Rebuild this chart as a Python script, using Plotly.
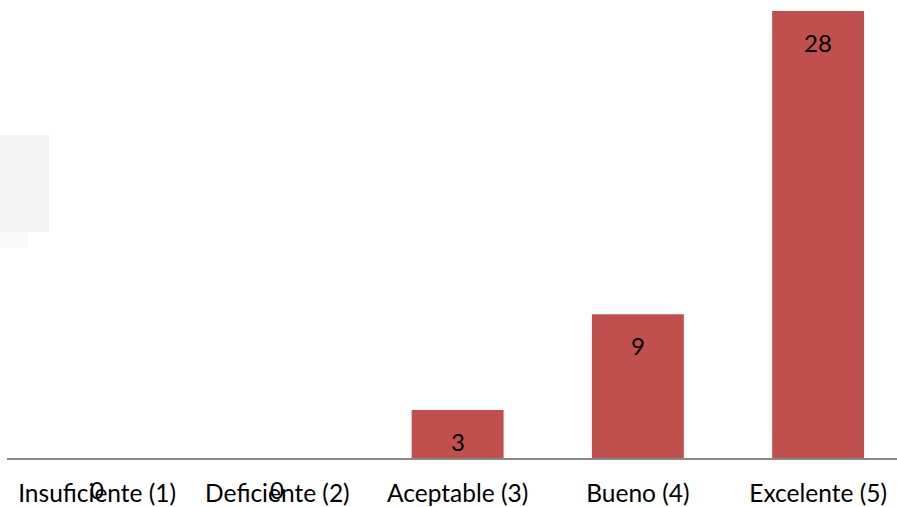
import plotly.graph_objects as go

categories = ["Insuficiente (1)", "Deficiente (2)", "Aceptable (3)", "Bueno (4)", "Excelente (5)"]
values = [0, 0, 3, 9, 28]

bar_color = "#C0504D"
font_family = "Lato, Open Sans, sans-serif"

fig = go.Figure()
fig.add_trace(go.Bar(
    x=categories,
    y=values,
    marker=dict(color=bar_color, line=dict(width=0)),
    width=0.51,
    showlegend=False,
    hoverinfo="x+y",
))

for c, v in zip(categories, values):
    fig.add_annotation(
        x=c, y=v, text=str(v), showarrow=False,
        yshift=-31, yanchor="middle", xanchor="center",
        font=dict(family=font_family, size=24, color="#000000"),
    )

# faint grey box at left edge (artifact of the original)
fig.add_shape(type="rect", xref="paper", yref="paper",
              x0=-0.01, x1=(49 - 7) / 890, y0=(458 - 232) / 458, y1=(458 - 135) / 458,
              fillcolor="#f3f3f3", line=dict(width=0), layer="below")
fig.add_shape(type="rect", xref="paper", yref="paper",
              x0=-0.01, x1=(28 - 7) / 890, y0=(458 - 248) / 458, y1=(458 - 232) / 458,
              fillcolor="#f9f9f9", line=dict(width=0), layer="below")

fig.update_layout(
    width=897, height=507,
    margin=dict(l=7, r=0, t=0, b=49),
    paper_bgcolor="white", plot_bgcolor="white",
    font=dict(family=font_family, size=24, color="#000000"),
    bargap=0.49,
)
fig.update_xaxes(
    type="category",
    range=[-0.5, -0.5 + 890 / 180.25],
    showline=True, linecolor="#898989", linewidth=2,
    showgrid=False, zeroline=False,
    ticks="", ticklabelstandoff=13,
    tickfont=dict(family=font_family, size=24.5, color="#000000"),
)
fig.update_yaxes(
    range=[0, 28 * 458 / 447],
    visible=False, showgrid=False, zeroline=False,
)

fig.write_html("out.html", config={"displayModeBar": False},
               post_script="document.body.style.margin='0';document.body.style.overflow='hidden';")
